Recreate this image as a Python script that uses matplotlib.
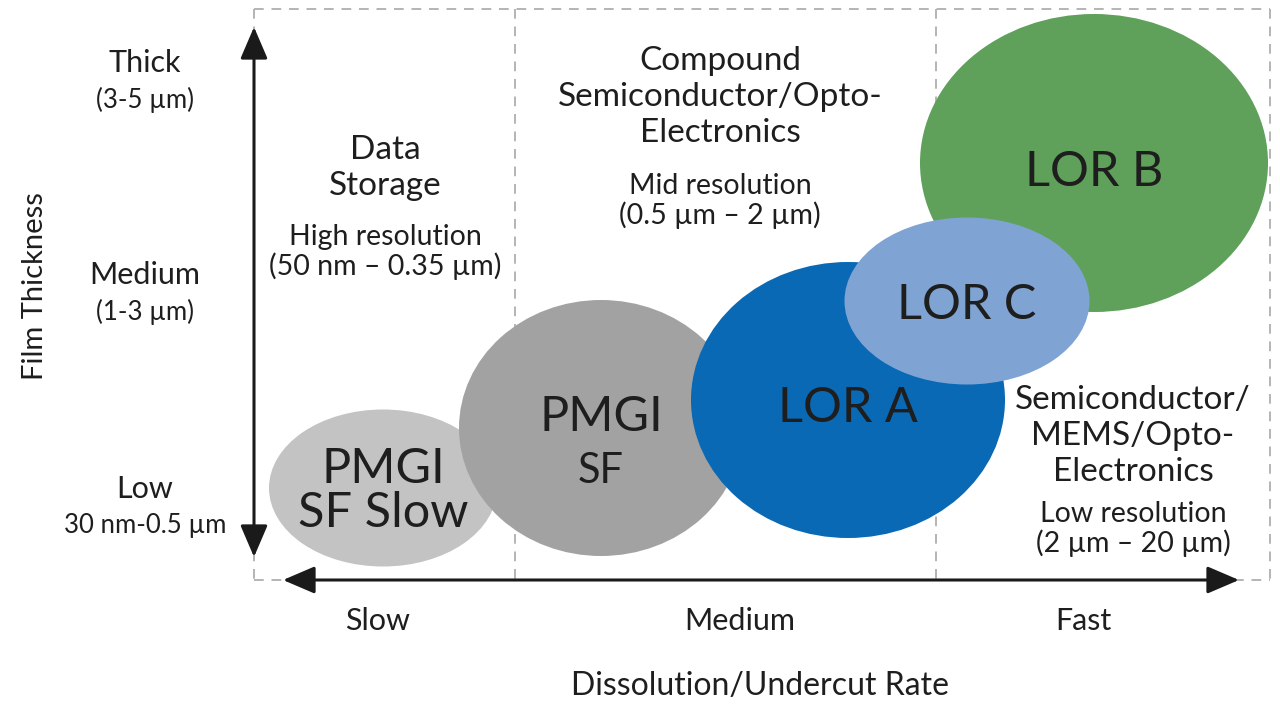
import matplotlib.pyplot as plt
from matplotlib.patches import Ellipse

plt.rcParams['font.family'] = ['Lato', 'DejaVu Sans']

# resist bubbles (pixel-like diagram units, y grows downward)
resists = ['PMGI\nSF Slow', 'PMGI\nSF', 'LOR A', 'LOR B', 'LOR C']
cx = [383, 601, 848, 1094, 967]
cy = [488, 428, 400, 163, 301]
widths = [228, 284, 314, 348, 245]
heights = [157, 256, 276, 298, 167]
colors = ['#c3c3c3', '#a2a2a2', '#0a69b4', '#5fa05b', '#7fa4d3']
label_y = [491, 444, 408, 172, 305]

# axis category labels
thickness_labels = ['Thick', 'Medium', 'Low']
thickness_ranges = ['(3-5 µm)', '(1-3 µm)', '30 nm-0.5 µm']
rate_labels = ['Slow', 'Medium', 'Fast']

# application regions
region_titles = ['Data\nStorage', 'Compound\nSemiconductor/Opto-\nElectronics',
                 'Semiconductor/\nMEMS/Opto-\nElectronics']
region_res = ['High resolution\n(50 nm – 0.35 µm)', 'Mid resolution\n(0.5 µm – 2 µm)',
              'Low resolution\n(2 µm – 20 µm)']

fig = plt.figure(figsize=(12.8, 7.15), dpi=100)
ax = fig.add_axes([0, 0, 1, 1])
ax.set_xlim(0, 1280)
ax.set_ylim(715, 0)
ax.axis('off')

txt = '#1e1e1e'
dash = dict(color='#b4b4b4', lw=1.4, ls=(0, (5, 4)), zorder=0)

# dashed frame and column dividers
ax.plot([254, 1270], [9, 9], **dash)
ax.plot([254, 1270], [580, 580], **dash)
for xv in [254, 515, 936, 1270]:
    ax.plot([xv, xv], [9, 580], **dash)

# ellipses, drawn in stacking order
for i in range(len(resists)):
    e = Ellipse((cx[i], cy[i]), widths[i], heights[i], facecolor=colors[i],
                edgecolor='none', zorder=2 + i)
    ax.add_patch(e)
ax.patches[4].set_zorder(8)

for i, name in enumerate(resists):
    if name == 'PMGI\nSF':
        ax.text(cx[i], label_y[i] - 27, 'PMGI', ha='center', va='center',
                fontsize=35, color=txt, zorder=10)
        ax.text(cx[i], label_y[i] + 27, 'SF', ha='center', va='center',
                fontsize=30, color=txt, zorder=10)
    else:
        ax.text(cx[i], label_y[i], name, ha='center', va='center',
                fontsize=35, color=txt, zorder=10, linespacing=0.98)

# axes arrows
arrow = dict(arrowstyle='<|-|>,head_length=1.4,head_width=0.6', color='#1a1a1a',
             lw=2.2, mutation_scale=14, shrinkA=0, shrinkB=0)
ax.annotate('', xy=(254, 27), xytext=(254, 557), arrowprops=arrow, zorder=9)
ax.annotate('', xy=(1239, 580), xytext=(283, 580), arrowprops=arrow, zorder=9)

# y categories
for lab, rng, yy in zip(thickness_labels, thickness_ranges, [63, 275, 489]):
    ax.text(145, yy, lab, ha='center', va='center', fontsize=22, color=txt)
    ax.text(145, yy + 37, rng, ha='center', va='center', fontsize=18.5, color=txt)

# x categories
for lab, xx in zip(rate_labels, [378, 740, 1083]):
    ax.text(xx, 621, lab, ha='center', va='center', fontsize=22, color=txt)

ax.text(35, 286, 'Film Thickness', rotation=90, ha='center', va='center',
        fontsize=21, color=txt)
ax.text(760, 686, 'Dissolution/Undercut Rate', ha='center', va='center',
        fontsize=23, color=txt)

# region descriptions
title_pos = [(385, 168), (720, 97), (1133, 436)]
res_pos = [(385, 252), (720, 201), (1133, 529)]
for t, r, tp, rp in zip(region_titles, region_res, title_pos, res_pos):
    ax.text(tp[0], tp[1], t, ha='center', va='center', fontsize=24,
            color=txt, linespacing=1.24, zorder=10)
    ax.text(rp[0], rp[1], r, ha='center', va='center', fontsize=20.5,
            color=txt, linespacing=1.12, zorder=10)

fig.savefig('out.png', dpi=100, facecolor='white')
